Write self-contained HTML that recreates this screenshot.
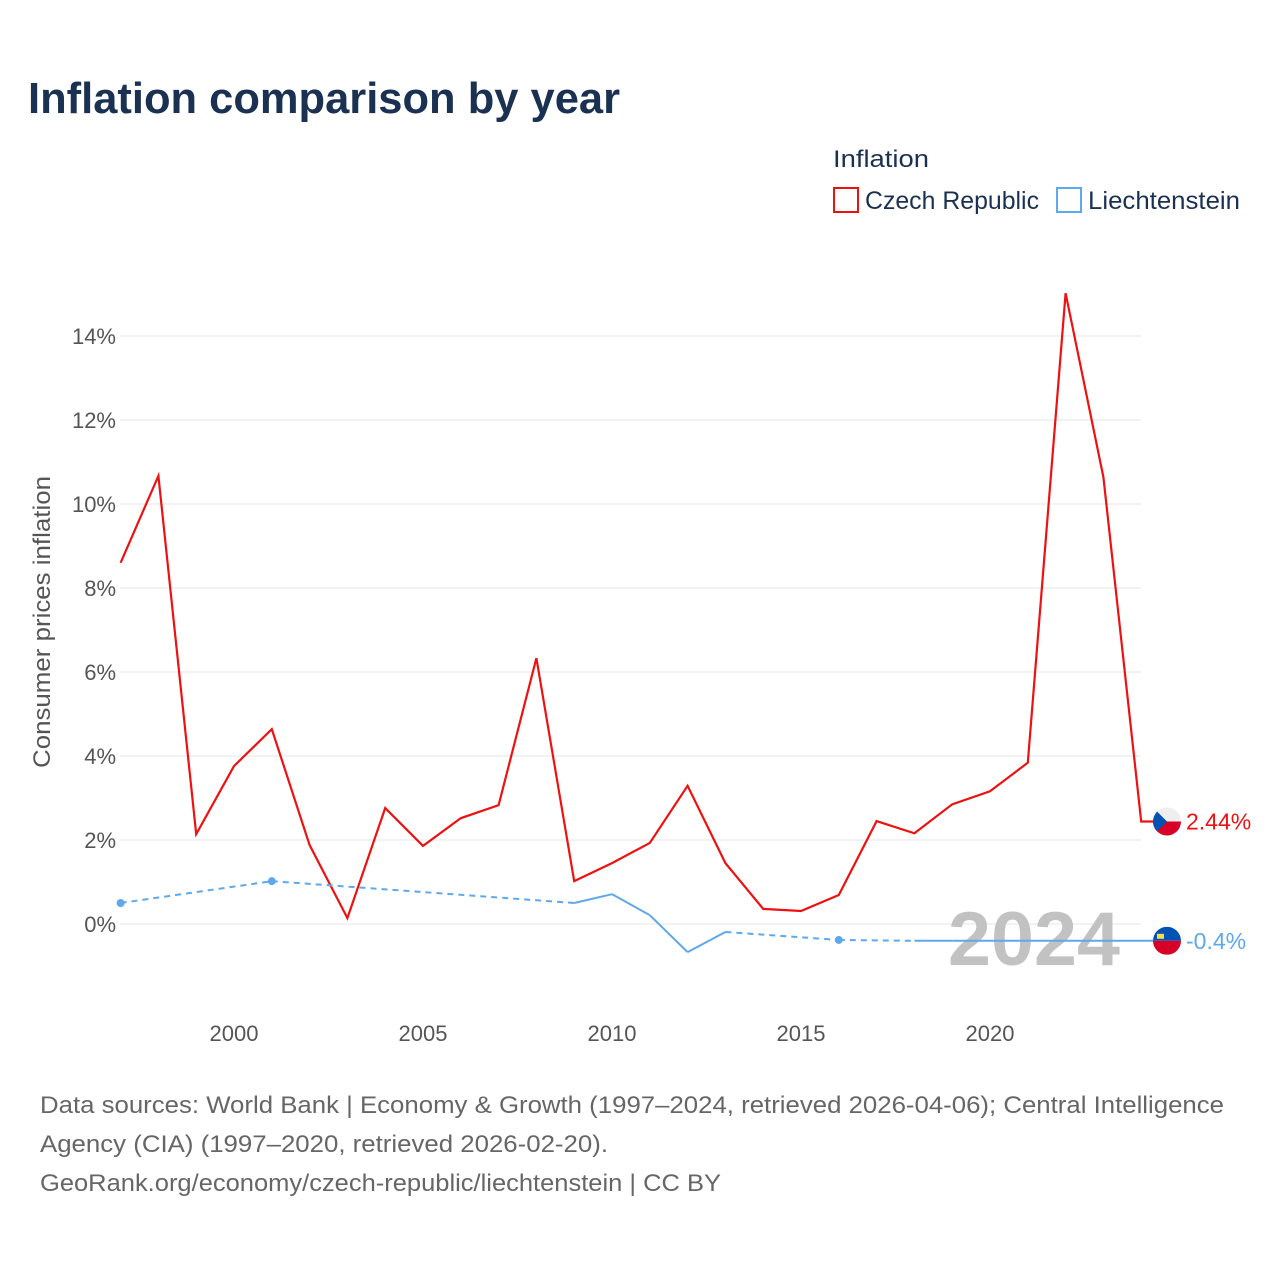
<!DOCTYPE html>
<html><head><meta charset="utf-8"><style>
html,body{margin:0;padding:0;background:#fff;}
svg{display:block;font-family:"Liberation Sans",sans-serif;}
</style></head><body>
<svg id="chart" width="1280" height="1280" viewBox="0 0 1280 1280" xmlns="http://www.w3.org/2000/svg">
<text x="28" y="113" font-size="44" font-weight="bold" fill="#1b3152" textLength="592" lengthAdjust="spacingAndGlyphs">Inflation comparison by year</text>
<g>
<text x="833" y="167" font-size="24" fill="#1b3152" textLength="96" lengthAdjust="spacingAndGlyphs">Inflation</text>
<rect x="834" y="188" width="24" height="24" fill="none" stroke="#ee1111" stroke-width="2"/>
<text x="865" y="209" font-size="25" fill="#1b3152" textLength="174" lengthAdjust="spacingAndGlyphs">Czech Republic</text>
<rect x="1057" y="188" width="24" height="24" fill="none" stroke="#5ea8ec" stroke-width="2"/>
<text x="1088" y="209" font-size="25" fill="#1b3152" textLength="152" lengthAdjust="spacingAndGlyphs">Liechtenstein</text>
</g>
<g id="grid"></g>
<text x="1120" y="965" text-anchor="end" font-size="76" font-weight="bold" fill="#c2c2c2" textLength="172" lengthAdjust="spacingAndGlyphs">2024</text>
<g id="series"></g>
<text transform="translate(50,622) rotate(-90)" text-anchor="middle" font-size="24" fill="#555" textLength="292" lengthAdjust="spacingAndGlyphs">Consumer prices inflation</text>
<g font-size="24" fill="#666">
<text x="40" y="1113" textLength="1184" lengthAdjust="spacingAndGlyphs">Data sources: World Bank | Economy &amp; Growth (1997–2024, retrieved 2026-04-06); Central Intelligence</text>
<text x="40" y="1152" textLength="568" lengthAdjust="spacingAndGlyphs">Agency (CIA) (1997–2020, retrieved 2026-02-20).</text>
<text x="40" y="1191" textLength="681" lengthAdjust="spacingAndGlyphs">GeoRank.org/economy/czech-republic/liechtenstein | CC BY</text>
</g>
</svg>
<script>
const yTicks=[0,2,4,6,8,10,12,14];
const xTicks=[2000,2005,2010,2015,2020];
const czYears=[1997,1998,1999,2000,2001,2002,2003,2004,2005,2006,2007,2008,2009,2010,2011,2012,2013,2014,2015,2016,2017,2018,2019,2020,2021,2022,2023,2024];
const czValues=[8.6,10.67,2.14,3.76,4.64,1.88,0.14,2.76,1.86,2.52,2.83,6.33,1.02,1.45,1.93,3.29,1.45,0.36,0.31,0.69,2.45,2.16,2.85,3.16,3.84,15.02,10.64,2.44];
const liYears=[1997,2001,2009,2010,2011,2012,2013,2016,2018,2019,2020];
const liValues=[0.5,1.02,0.5,0.71,0.21,-0.67,-0.19,-0.38,-0.4,-0.4,-0.4];
const NS="http://www.w3.org/2000/svg";
const X=y=>120.6+(y-1997)*37.8;
const Y=v=>924-v*42;
function mk(t,a,p){const e=document.createElementNS(NS,t);for(const k in a)e.setAttribute(k,a[k]);p.appendChild(e);return e;}
const grid=document.getElementById('grid'), ser=document.getElementById('series');
yTicks.forEach(v=>{
 const l=mk('line',{x1:120,x2:1141,y1:Y(v),y2:Y(v),stroke:'#e6e6e6','stroke-width':1},grid);
 
 
 const t=mk('text',{x:116,y:Y(v)+8,'text-anchor':'end','font-size':22,fill:'#555'},grid);
 t.textContent=v+'%';
 
 
});
xTicks.forEach(yr=>{
 const t=mk('text',{x:X(yr),y:1041,'text-anchor':'middle','font-size':22,fill:'#555'},grid);
 t.textContent=yr;
 
 
});
// Czech line
let d=czYears.map((y,i)=>(i?'L':'M')+X(y)+' '+Y(czValues[i])).join(' ');
const lastC=czValues[czValues.length-1];
d+=' L1153 '+Y(lastC);
const cz=mk('path',{d:d,fill:'none',stroke:'#ee1111','stroke-width':2.2,'stroke-linejoin':'miter'},ser);


// Liechtenstein segments
for(let i=1;i<liYears.length;i++){
 const dash=liYears[i]-liYears[i-1]>1;
 const s=mk('line',{x1:X(liYears[i-1]),y1:Y(liValues[i-1]),x2:X(liYears[i]),y2:Y(liValues[i]),stroke:'#5ea8ec','stroke-width':2,'stroke-dasharray':dash?'6 5':'none'},ser);
 
 
}
const lastL=liValues[liValues.length-1];
const ext=mk('line',{x1:X(liYears[liYears.length-1]),y1:Y(lastL),x2:1153,y2:Y(lastL),stroke:'#5ea8ec','stroke-width':2},ser);


liYears.forEach((y,i)=>{
 const prevGap=i==0||liYears[i]-liYears[i-1]>1, nextGap=i==liYears.length-1||liYears[i+1]-liYears[i]>1;
 if(prevGap&&nextGap&&i<liYears.length-1){
  const c=mk('circle',{cx:X(y),cy:Y(liValues[i]),r:4,fill:'#5ea8ec'},ser);
  
  
 }
});
// flags
const fx=1167, cy1=Y(lastC), cy2=Y(lastL);
const defs=mk('defs',{},ser);
const cp1=mk('clipPath',{id:'c1'},defs); mk('circle',{cx:fx,cy:cy1,r:14},cp1);
const cp2=mk('clipPath',{id:'c2'},defs); mk('circle',{cx:fx,cy:cy2,r:14},cp2);
const f1=mk('g',{'clip-path':'url(#c1)'},ser);


mk('rect',{x:fx-14,y:cy1-14,width:28,height:14,fill:'#eeeeee'},f1);
mk('rect',{x:fx-14,y:cy1,width:28,height:14,fill:'#d80027'},f1);
mk('polygon',{points:`${fx-14},${cy1-14} ${fx},${cy1} ${fx-14},${cy1+14}`,fill:'#0052b4'},f1);
const f2=mk('g',{'clip-path':'url(#c2)'},ser);


mk('rect',{x:fx-14,y:cy2-14,width:28,height:14,fill:'#0052b4'},f2);
mk('rect',{x:fx-14,y:cy2,width:28,height:14,fill:'#d80027'},f2);
mk('rect',{x:fx-10,y:cy2-7,width:7,height:5,fill:'#ffda44'},f2);
const t1=mk('text',{x:1186,y:cy1+8,'font-size':23,fill:'#ee1111'},ser);
t1.textContent=lastC.toFixed(2)+'%';


const t2=mk('text',{x:1186,y:cy2+8,'font-size':23,fill:'#5ea8ec'},ser);
t2.textContent=lastL.toFixed(1)+'%';


</script>
</body></html>
